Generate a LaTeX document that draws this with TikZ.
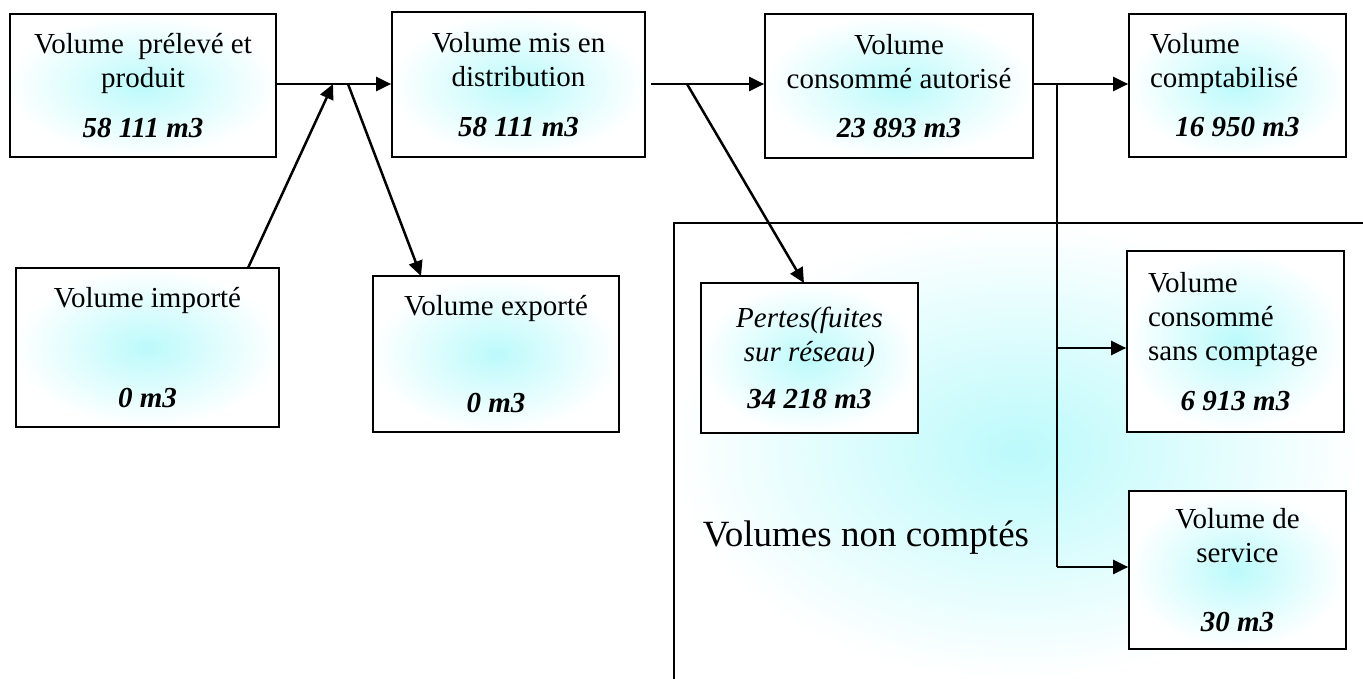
\documentclass[tikz,border=0pt]{standalone}
\usepackage{fontspec}
\setmainfont{Liberation Serif}
\usetikzlibrary{arrows.meta}
\definecolor{glow}{RGB}{188,250,251}
\begin{document}
\begin{tikzpicture}[x=1pt,y=-1pt,
  box/.style={draw=black, line width=1.7pt, shading=radial, inner color=glow, outer color=white,
    inner sep=0pt, align=center, font=\fontsize{29}{34}\selectfont},
  leftbox/.style={box, align=flush left, text width=175pt, inner xsep=21pt},
  conn/.style={line width=2.5pt, -{Triangle[length=15pt,width=14pt]}},
  plain/.style={line width=2pt}]
\useasboundingbox (0,0) rectangle (1363,679);
% region of non-counted volumes
\shade[inner color=glow, outer color=white] (674,223) rectangle (1363,679);
\draw[plain] (674,679) -- (674,223) -- (1363,223);
% boxes
\node[box, minimum width=266pt, minimum height=143pt] (prod) at (143,85.5)
  {Volume\ \ prélevé et\\produit\\[16pt]\textbf{\textit{58 111 m3}}};
\node[box, minimum width=253pt, minimum height=145pt] (dist) at (518.5,84.5)
  {Volume mis en\\distribution\\[16pt]\textbf{\textit{58 111 m3}}};
\node[box, minimum width=268pt, minimum height=144pt] (auth) at (899,86)
  {Volume\\consommé autorisé\\[15pt]\textbf{\textit{23 893 m3}}};
\node[leftbox, minimum width=217pt, minimum height=143pt] (comp) at (1237.5,85.5)
  {Volume\\comptabilisé\\[15pt]\hbox to 175pt{\hss\textbf{\textit{16 950 m3}}\hss}};
\node[box, minimum width=263pt, minimum height=159pt] (imp) at (147.5,347.5)
  {Volume importé\\[66pt]\textbf{\textit{0 m3}}};
\node[box, minimum width=246pt, minimum height=156pt] (exp) at (496,354)
  {Volume exporté\\[63pt]\textbf{\textit{0 m3}}};
\node[box, minimum width=217pt, minimum height=150pt] (loss) at (809.5,358)
  {\textit{Pertes(fuites}\\\textit{sur réseau)}\\[13pt]\textbf{\textit{34 218 m3}}};
\node[leftbox, minimum width=217pt, minimum height=181pt] (nometer) at (1235.5,341.5)
  {Volume\\consommé\\sans comptage\\[16pt]\hbox to 175pt{\hss\textbf{\textit{6 913 m3}}\hss}};
\node[box, minimum width=217pt, minimum height=158pt] (serv) at (1237.5,570)
  {Volume de\\service\\[35pt]\textbf{\textit{30 m3}}};
\node[font=\fontsize{37}{44}\selectfont] (nc) at (866,538) {Volumes non comptés};
% junction points
\coordinate (row) at (0,84);
\coordinate (j1) at (333,84);
\coordinate (j2) at (348,84);
\coordinate (j3) at (687,84);
\coordinate (j4) at (1057,84);
\coordinate (b8) at (1057,348);
\coordinate (b9) at (1057,567);
\coordinate (impout) at (248,268);
\coordinate (expin) at (421,276);
\coordinate (lossin) at (804,283);
% connectors
\draw[conn] (prod.east |- row) -- (dist.west |- row);
\draw[conn] (impout) -- (j1);
\draw[conn] (j2) -- (expin);
\draw[conn, shorten <=5pt] (dist.east |- row) -- (auth.west |- row);
\draw[conn] (j3) -- (lossin);
\draw[conn] (auth.east |- row) -- (comp.west |- row);
\draw[plain] (j4) -- (b9);
\draw[conn] (b8) -- (b8 -| nometer.west);
\draw[conn] (b9) -- (b9 -| serv.west);
\end{tikzpicture}
\end{document}
